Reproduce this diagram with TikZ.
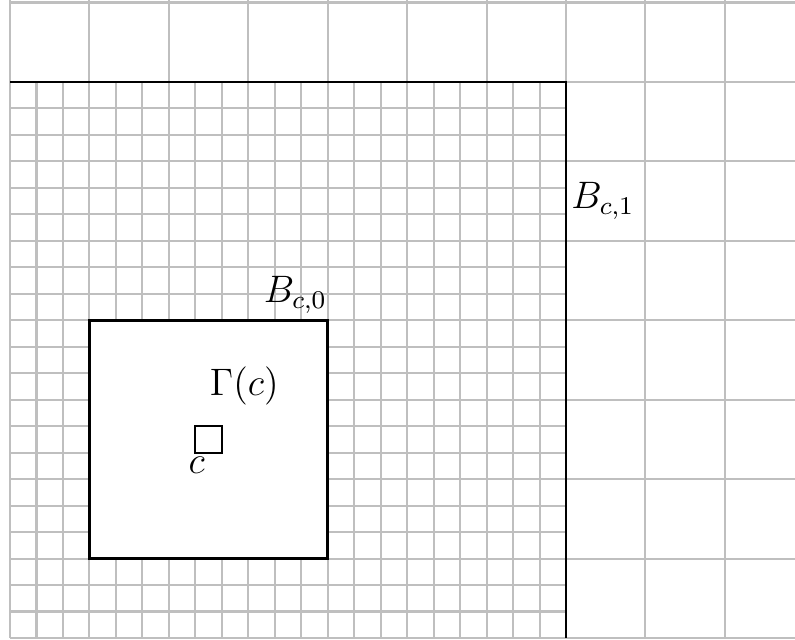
\documentclass[tikz,border=0pt,12pt]{standalone}
\begin{document}
\begin{tikzpicture}[x=0.875cm,y=0.875cm,
  gridline/.style={draw=lightgray, line width=0.65pt},
  boxline/.style={draw=black, line width=0.85pt},
  cellline/.style={draw=black, line width=0.7pt},
  lab/.style={inner sep=1.5pt}]
\useasboundingbox (-0.126,-0.013) rectangle (9.883,8.032);
\begin{scope}
\clip (-0.126,-0.013) rectangle (9.883,8.032);
% fine grid inside B_{c,1}
\foreach \i in {0,...,21} {
  \draw[gridline] (\i/3,0) -- (\i/3,7);
  \draw[gridline] (0,\i/3) -- (7,\i/3);
}
% coarse grid
\foreach \i in {0,...,9} \draw[gridline] (\i,0) -- (\i,8.1);
\foreach \j in {0,...,8} \draw[gridline] (0,\j) -- (9.95,\j);
\end{scope}
% B_{c,1} boundary
\coordinate (tl) at (0,7);
\coordinate (tr) at (7,7);
\coordinate (br) at (7,0);
\draw[boxline] (tl) -- (tr) -- (br);
% B_{c,0}
\node[boxline, fill=white, minimum size=3*0.875cm, inner sep=0pt] (b0) at (2.5,2.5) {};
% cell c
\node[cellline, minimum size=0.875cm/3, inner sep=0pt] (csq) at (2.5,2.5) {};
% labels
\node[lab, anchor=west] (l1) at (7,5.5) {$B_{c,1}$};
\node[lab, anchor=south east, xshift=1pt] (l0) at (b0.north east) {$B_{c,0}$};
\node[lab] (lg) at (2.95,3.17) {$\Gamma(c)$};
\node[lab] (lc) at (2.35,2.18) {$c$};
\end{tikzpicture}
\end{document}
